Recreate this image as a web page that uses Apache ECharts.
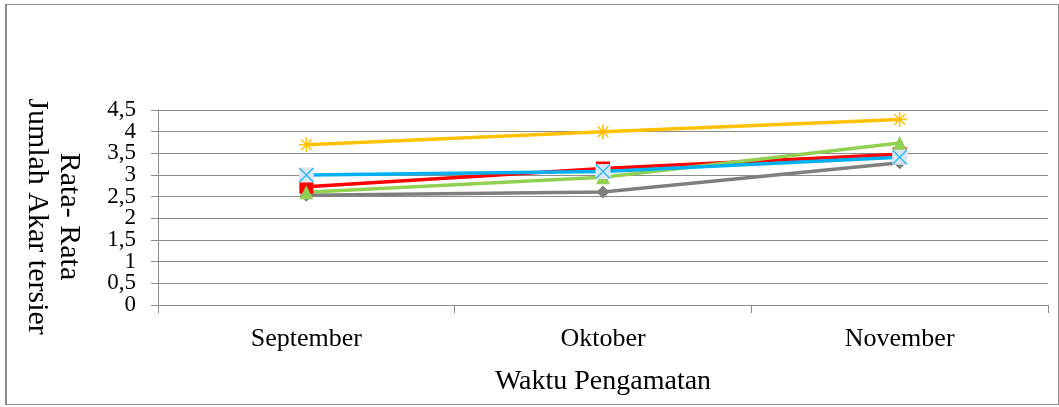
<!DOCTYPE html>
<html>
<head>
<meta charset="utf-8">
<script src="https://cdn.jsdelivr.net/npm/echarts@6/dist/echarts.min.js"></script>
<style>
  html, body { margin: 0; padding: 0; background: #fff; }
  #frame { position: absolute; left: 5px; top: 4px; width: 1051px; height: 399px; border: 1px solid #8c8c8c; border-left-width: 2px; }
  #chart { position: absolute; left: 0; top: 0; width: 1059px; height: 407px; }
</style>
</head>
<body>
<div id="frame"></div>
<div id="chart"></div>
<script>
// Observation months
const months = ['September', 'Oktober', 'November'];

// Mean tertiary root counts per treatment
const seriesGray   = [2.53, 2.61, 3.28];
const seriesRed    = [2.73, 3.15, 3.48];
const seriesGreen  = [2.60, 2.95, 3.74];
const seriesBlue   = [3.00, 3.08, 3.41];
const seriesYellow = [3.70, 4.00, 4.28];

// Y tick labels (decimal comma); whole and half steps are laid out on two
// label rows so the tightly packed labels all stay visible
const yTicksWhole = [0, 1, 2, 3, 4];
const yTicksHalf  = [0.5, 1.5, 2.5, 3.5, 4.5];
const yTickText = v => String(v).replace('.', ',');

const SERIF = '"Liberation Serif", "Times New Roman", serif';
const CROSS = 'path://M0 0L10 10M10 0L0 10';
const STAR = 'path://M6 0V12M0 6H12M1.8 1.8L10.2 10.2M10.2 1.8L1.8 10.2';

const yLabelStyle = { color: '#000', fontFamily: SERIF, fontSize: 23, margin: 22, formatter: yTickText };

const chart = echarts.init(document.getElementById('chart'), null, { renderer: 'canvas' });

chart.setOption({
  animation: false,
  backgroundColor: 'transparent',
  grid: { left: 158, right: 11, top: 110, bottom: 102, containLabel: false, outerBoundsMode: 'none' },
  xAxis: {
    type: 'category',
    data: months,
    boundaryGap: true,
    axisLine: { lineStyle: { color: '#8c8c8c', width: 1 } },
    axisTick: { show: true, length: 8, lineStyle: { color: '#8c8c8c' } },
    axisLabel: { color: '#000', fontFamily: SERIF, fontSize: 26, margin: 21 },
    name: 'Waktu Pengamatan',
    nameLocation: 'middle',
    nameGap: 63,
    nameTextStyle: { color: '#000', fontFamily: SERIF, fontSize: 28 }
  },
  yAxis: [
    {
      type: 'value',
      min: 0,
      max: 4.5,
      interval: 0.5,
      axisLine: { show: true, lineStyle: { color: '#8c8c8c', width: 1 } },
      axisTick: { show: true, length: 7, lineStyle: { color: '#8c8c8c' } },
      splitLine: { lineStyle: { color: '#8c8c8c', width: 1 } },
      axisLabel: Object.assign({ customValues: yTicksWhole }, yLabelStyle),
      name: 'Rata- Rata\nJumlah Akar tersier',
      nameLocation: 'middle',
      nameRotate: -90,
      nameGap: 73,
      nameTextStyle: { color: '#000', fontFamily: SERIF, fontSize: 30, lineHeight: 32, padding: [0, 0, 0, 18] }
    },
    {
      type: 'value',
      position: 'left',
      offset: 0,
      min: 0,
      max: 4.5,
      interval: 0.5,
      axisLine: { show: false },
      axisTick: { show: false },
      splitLine: { show: false },
      axisLabel: Object.assign({ customValues: yTicksHalf }, yLabelStyle)
    }
  ],
  series: [
    {
      type: 'line', data: seriesGray,
      symbol: 'diamond', symbolSize: 13,
      itemStyle: { color: '#7f7f7f' },
      lineStyle: { color: '#7f7f7f', width: 3.5 }
    },
    {
      type: 'line', data: seriesRed,
      symbol: 'rect', symbolSize: 14,
      itemStyle: { color: '#ff0000' },
      lineStyle: { color: '#ff0000', width: 3.5 }
    },
    {
      type: 'line', data: seriesGreen,
      symbol: 'triangle', symbolSize: 14,
      itemStyle: { color: '#92d050' },
      lineStyle: { color: '#92d050', width: 3.5 }
    },
    {
      type: 'line', data: seriesBlue,
      symbol: 'rect', symbolSize: 15,
      itemStyle: { color: '#dce6f2' },
      lineStyle: { color: '#00b0f0', width: 3.5 }
    },
    {
      // cross drawn over the blue series' square markers
      type: 'scatter', data: seriesBlue,
      symbol: CROSS, symbolSize: 14,
      itemStyle: { color: 'none', borderColor: '#00b0f0', borderWidth: 1.5 },
      z: 3
    },
    {
      type: 'line', data: seriesYellow,
      symbol: STAR, symbolSize: 15,
      itemStyle: { color: 'none', borderColor: '#ffc000', borderWidth: 1.5 },
      lineStyle: { color: '#ffc000', width: 3.5 }
    }
  ]
});
</script>
</body>
</html>
